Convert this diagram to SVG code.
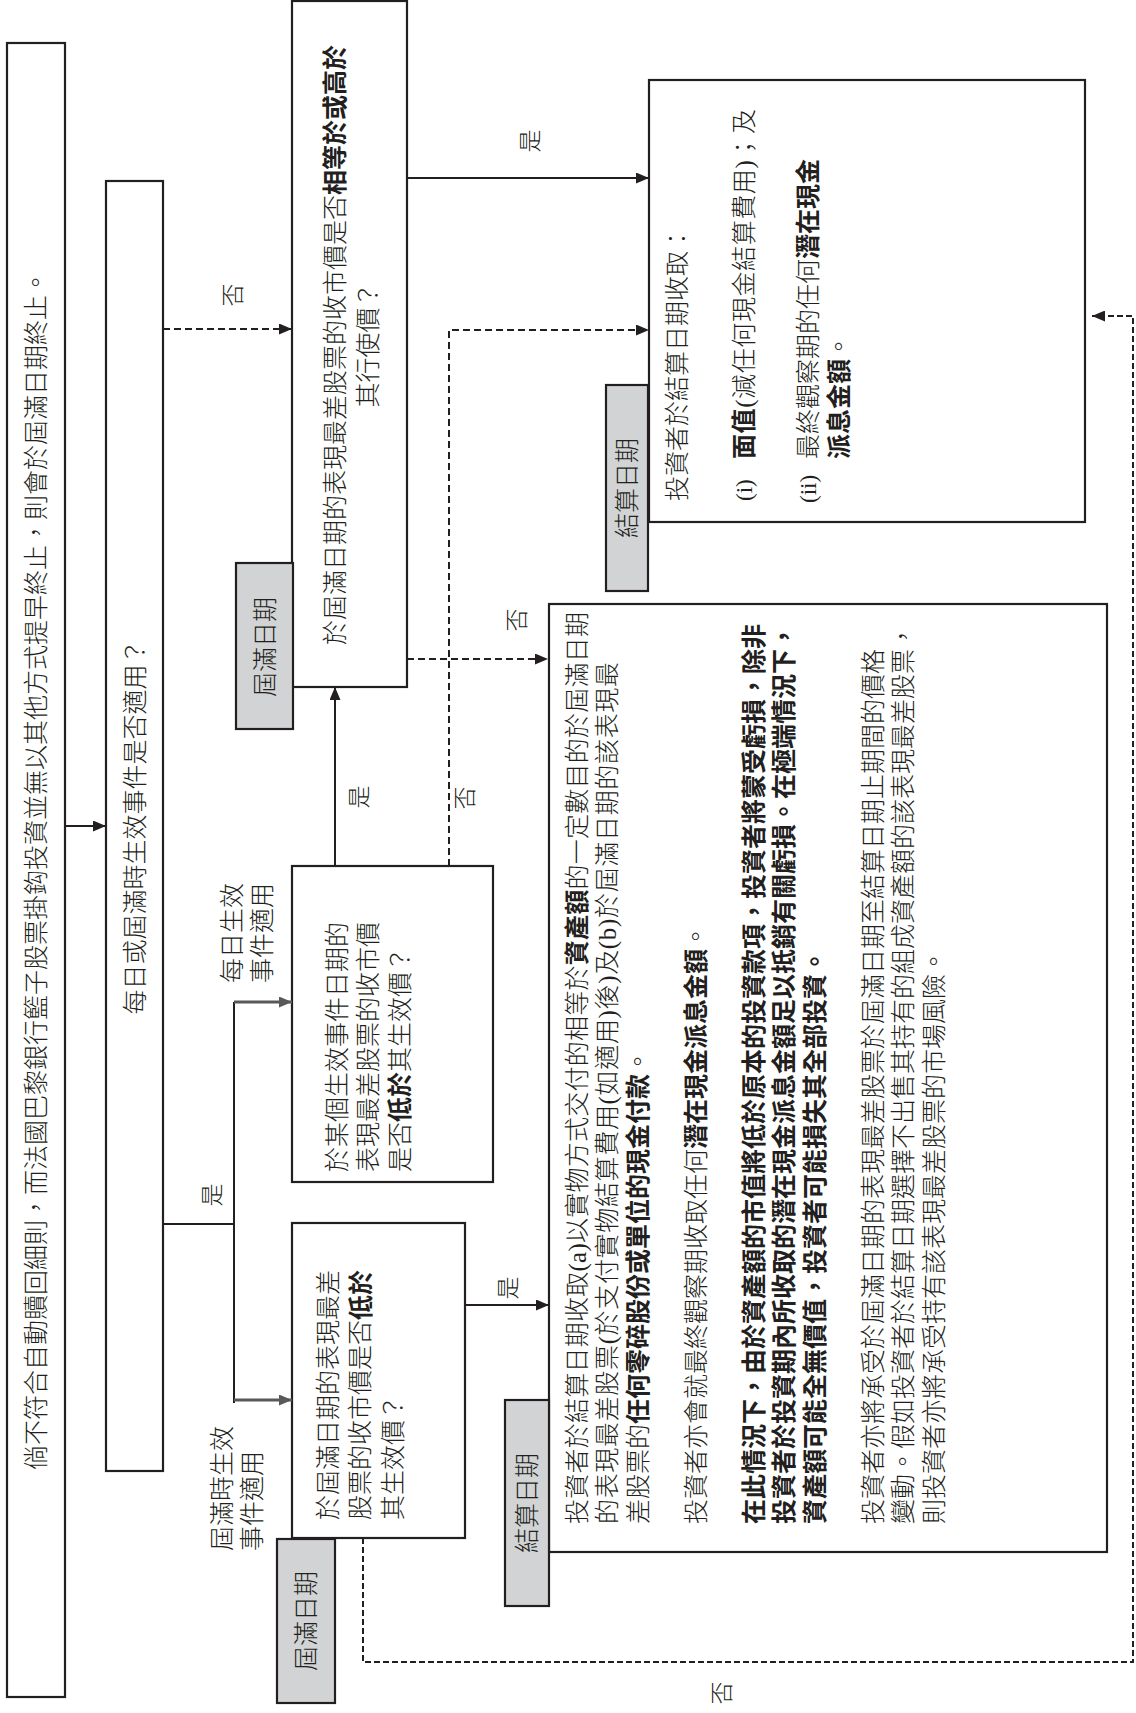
<svg xmlns="http://www.w3.org/2000/svg" width="1136" height="1713" viewBox="0 0 1136 1713">
<defs>
<style>
.box{fill:#fff;stroke:#231f20;stroke-width:2.2}
.tag{fill:#d1d3d4;stroke:#231f20;stroke-width:2.2}
text{font-family:"Liberation Serif","Noto Sans CJK TC",serif;font-size:25px;font-weight:300;fill:#231f20;dominant-baseline:central}
.b{font-weight:700}
.lb{font-size:23px}
.m{text-anchor:middle}
.sm{font-size:23px}
.c{fill:none;stroke:#231f20;stroke-width:2}
.d{stroke-dasharray:7 4}
.d2{stroke-dasharray:6 3}
.g{stroke:#58595b;stroke-width:3.2}
</style>
<marker id="ah" viewBox="0 0 13 11" refX="13" refY="5.5" markerWidth="13" markerHeight="11" markerUnits="userSpaceOnUse" orient="auto"><path d="M0,0 L13,5.5 L0,11 z" fill="#231f20"/></marker>
<marker id="ahg" viewBox="0 0 13 11" refX="13" refY="5.5" markerWidth="13" markerHeight="11" markerUnits="userSpaceOnUse" orient="auto"><path d="M0,0 L13,5.5 L0,11 z" fill="#58595b"/></marker>
</defs>
<rect width="1136" height="1713" fill="#fff"/>

<g id="n-start">
<rect class="box" x="7" y="43" width="58" height="1654"/>
<text class="m" transform="translate(0,1713) rotate(-90)" x="843" y="36">倘不符合自動贖回細則，而法國巴黎銀行籃子股票掛鈎投資並無以其他方式提早終止，則會於屆滿日期終止。</text>
</g>

<g id="n-event">
<rect class="box" x="106" y="181" width="57" height="1290"/>
<text class="m" transform="translate(0,1713) rotate(-90)" x="886" y="135">每日或屆滿時生效事件是否適用？</text>
</g>

<g id="n-strike">
<rect class="box" x="292" y="1" width="115" height="686"/>
<g transform="translate(0,1713) rotate(-90)">
<text class="m" x="1368" y="335">於屆滿日期的表現最差股票的收市價是否<tspan class="b">相等於或高於</tspan></text>
<text class="m" x="1368" y="368">其行使價？</text>
</g>
</g>

<g id="tag-expiry-1">
<rect class="tag" x="236" y="563" width="57" height="166"/>
<text class="m" transform="translate(0,1713) rotate(-90)" x="1066" y="265">屆滿日期</text>
</g>

<g id="n-cash">
<rect class="box" x="649" y="80" width="436" height="442"/>
<g transform="translate(0,1713) rotate(-90)">
<text x="1212" y="677">投資者於結算日期收取：</text>
<text class="sm" x="1212" y="744">(i)</text>
<text x="1254" y="744" textLength="350" lengthAdjust="spacing"><tspan class="b">面值</tspan>(減任何現金結算費用)；及</text>
<text class="sm" x="1210" y="808">(ii)</text>
<text x="1254" y="808">最終觀察期的任何<tspan class="b">潛在現金</tspan></text>
<text x="1254" y="839"><tspan class="b">派息金額</tspan>。</text>
</g>
</g>

<g id="tag-settle-1">
<rect class="tag" x="606" y="385" width="42" height="206"/>
<text class="m" transform="translate(0,1713) rotate(-90)" x="1225" y="627">結算日期</text>
</g>

<g id="n-physical">
<rect class="box" x="549" y="604" width="558" height="948"/>
<g transform="translate(0,1713) rotate(-90)">
<text x="189" y="577" textLength="912" lengthAdjust="spacing">投資者於結算日期收取(a)以實物方式交付的相等於<tspan class="b">資產額</tspan>的一定數目的於屆滿日期</text>
<text x="189" y="607.5" textLength="862" lengthAdjust="spacing">的表現最差股票(於支付實物結算費用(如適用)後)及(b)於屆滿日期的該表現最</text>
<text x="189" y="638">差股票的<tspan class="b">任何零碎股份或單位的現金付款</tspan>。</text>
<text x="189" y="696">投資者亦會就最終觀察期收取任何<tspan class="b">潛在現金派息金額</tspan>。</text>
<text class="b" x="189" y="754">在此情況下，由於資產額的市值將低於原本的投資款項，投資者將蒙受虧損，除非</text>
<text class="b" x="189" y="784.5">投資者於投資期內所收取的潛在現金派息金額足以抵銷有關虧損。在極端情況下，</text>
<text class="b" x="189" y="815">資產額可能全無價值，投資者可能損失其全部投資。</text>
<text x="189" y="873">投資者亦將承受於屆滿日期的表現最差股票於屆滿日期至結算日期止期間的價格</text>
<text x="189" y="903.5">變動。假如投資者於結算日期選擇不出售其持有的組成資產額的該表現最差股票，</text>
<text x="189" y="934">則投資者亦將承受持有該表現最差股票的市場風險。</text>
</g>
</g>

<g id="tag-settle-2">
<rect class="tag" x="505" y="1400" width="44" height="206"/>
<text class="m" transform="translate(0,1713) rotate(-90)" x="210" y="527">結算日期</text>
</g>

<g id="n-daily">
<rect class="box" x="292" y="866" width="201" height="316"/>
<g transform="translate(0,1713) rotate(-90)">
<text x="541" y="337">於某個生效事件日期的</text>
<text x="541" y="368.5">表現最差股票的收市價</text>
<text x="541" y="400">是否<tspan class="b">低於</tspan>其生效價？</text>
</g>
</g>

<g id="n-expiry">
<rect class="box" x="292" y="1223" width="173" height="315"/>
<g transform="translate(0,1713) rotate(-90)">
<text x="193" y="328">於屆滿日期的表現最差</text>
<text x="193" y="360.5">股票的收市價是否<tspan class="b">低於</tspan></text>
<text x="193" y="393">其生效價？</text>
</g>
</g>

<g id="tag-expiry-2">
<rect class="tag" x="277" y="1539" width="58" height="164"/>
<text class="m" transform="translate(0,1713) rotate(-90)" x="92" y="306">屆滿日期</text>
</g>

<g id="connectors">
<path class="c" d="M65,826 H106" marker-end="url(#ah)"/>
<path class="c d" d="M163,329 H292" marker-end="url(#ah)"/>
<path class="c" d="M407,178 H649" marker-end="url(#ah)"/>
<path class="c d" d="M407,659 H548" marker-end="url(#ah)"/>
<path class="c d" d="M449,866 V330 H649" marker-end="url(#ah)"/>
<path class="c" d="M335,866 V687" marker-end="url(#ah)"/>
<path class="c" d="M163,1224 H234 M234,1002 V1403"/>
<path class="c g" d="M234,1002 H292" marker-end="url(#ahg)"/>
<path class="c g" d="M234,1400 H292" marker-end="url(#ahg)"/>
<path class="c" d="M465,1305 H549" marker-end="url(#ah)"/>
<path class="c d2" d="M363,1538 V1662 H1133 V316 H1092" marker-end="url(#ah)"/>
<g transform="translate(0,1713) rotate(-90)">
<text class="m lb" x="1418" y="233">否</text>
<text class="m lb" x="1572" y="530">是</text>
<text class="m lb" x="1093" y="517">否</text>
<text class="m lb" x="915" y="465">否</text>
<text class="m lb" x="916" y="359">是</text>
<text class="m lb" x="518" y="212">是</text>
<text class="m lb" x="425" y="508">是</text>
<text class="m lb" x="20" y="722">否</text>
<text x="730" y="232">每日生效</text>
<text x="730" y="262">事件適用</text>
<text x="162" y="222">屆滿時生效</text>
<text x="162" y="252">事件適用</text>
</g>
</g>
</svg>
